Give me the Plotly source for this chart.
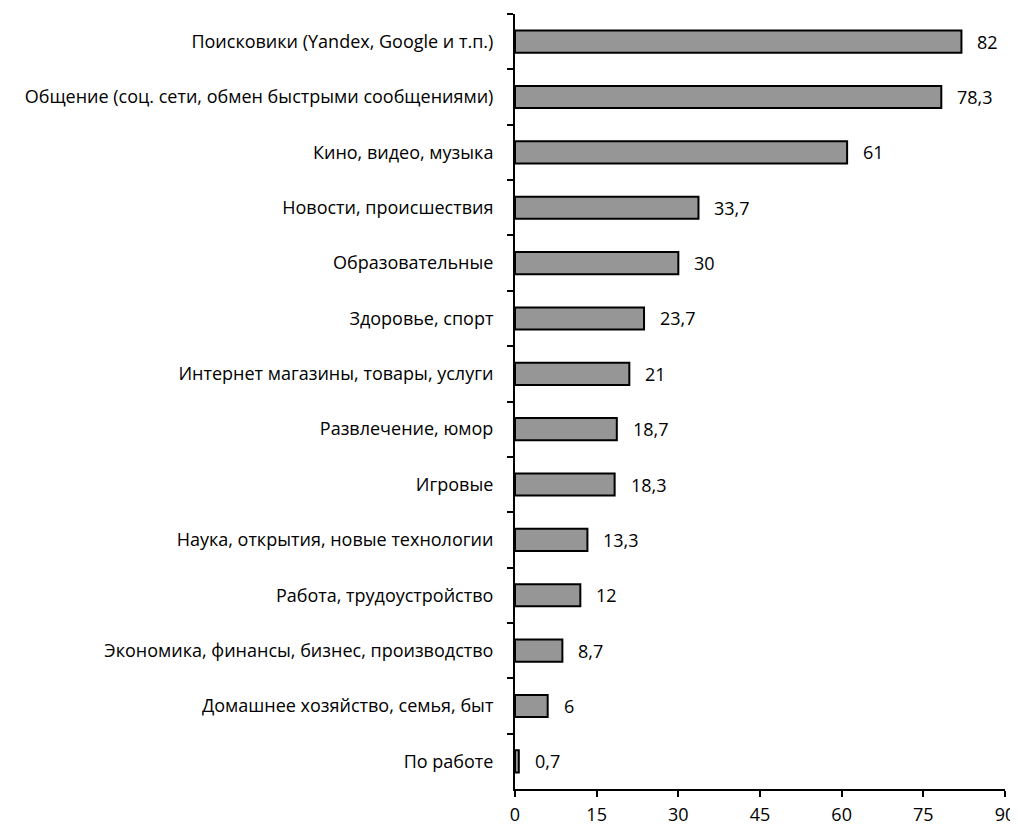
import plotly.graph_objects as go

categories = [
    "Поисковики (Yandex, Google и т.п.)",
    "Общение (соц. сети, обмен быстрыми сообщениями)",
    "Кино, видео, музыка",
    "Новости, происшествия",
    "Образовательные",
    "Здоровье, спорт",
    "Интернет магазины, товары, услуги",
    "Развлечение, юмор",
    "Игровые",
    "Наука, открытия, новые технологии",
    "Работа, трудоустройство",
    "Экономика, финансы, бизнес, производство",
    "Домашнее хозяйство, семья, быт",
    "По работе",
]
values = [82, 78.3, 61, 33.7, 30, 23.7, 21, 18.7, 18.3, 13.3, 12, 8.7, 6, 0.7]
x_ticks = [0, 15, 30, 45, 60, 75, 90]

FONT = "Open Sans"
FS = 18

fig = go.Figure()
fig.add_trace(go.Bar(
    x=values, y=categories, orientation="h",
    marker=dict(color="#969696", line=dict(color="black", width=2)),
    width=0.4,
))

for c, v in zip(categories, values):
    fig.add_annotation(
        x=v, y=c, text=f"{v:g}".replace(".", ","), showarrow=False,
        xanchor="left", xshift=14, font=dict(family=FONT, size=FS, color="black"),
    )

# page body has an 8px default margin, so the figure is 8px smaller
fig.update_layout(
    width=1010, height=817,
    margin=dict(l=507, r=13, t=6, b=36),
    paper_bgcolor="white", plot_bgcolor="white",
    showlegend=False,
    font=dict(family=FONT, size=FS, color="black"),
    xaxis=dict(
        range=[0, 90], tickvals=x_ticks, showgrid=False, zeroline=False,
        showline=True, linecolor="black", linewidth=2,
        ticks="outside", ticklen=6, tickwidth=2, tickcolor="black",
        automargin=False, ticklabelstandoff=2,
    ),
    yaxis=dict(
        autorange="reversed", showgrid=False, zeroline=False,
        showline=True, linecolor="black", linewidth=2,
        ticks="outside", ticklen=6, tickwidth=2, tickcolor="black",
        tickson="boundaries", ticklabelstandoff=16, automargin=False,
    ),
)

fig.write_html("out.html")
